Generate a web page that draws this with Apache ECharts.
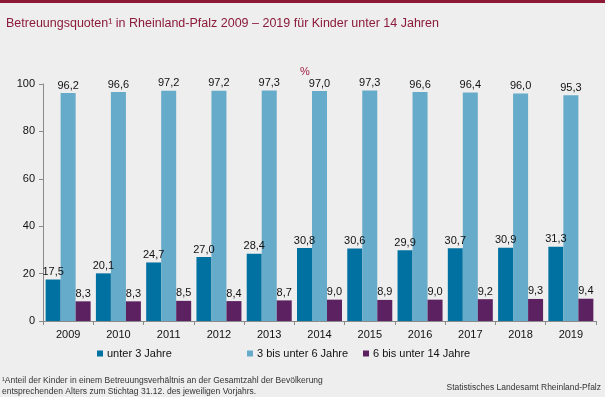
<!DOCTYPE html>
<html>
<head>
<meta charset="utf-8">
<script src="https://cdn.jsdelivr.net/npm/echarts@6/dist/echarts.min.js"></script>
<style>
  html, body { margin: 0; padding: 0; background: #edeeed; }
  #chart { width: 605px; height: 397px; }
</style>
</head>
<body>
<div id="chart"></div>
<script>
// Daten
var jahre = ['2009', '2010', '2011', '2012', '2013', '2014', '2015', '2016', '2017', '2018', '2019'];
var unter3 = [17.5, 20.1, 24.7, 27.0, 28.4, 30.8, 30.6, 29.9, 30.7, 30.9, 31.3];
var von3bis6 = [96.2, 96.6, 97.2, 97.2, 97.3, 97.0, 97.3, 96.6, 96.4, 96.0, 95.3];
var von6bis14 = [8.3, 8.3, 8.5, 8.4, 8.7, 9.0, 8.9, 9.0, 9.2, 9.3, 9.4];
var yTicks = [0, 20, 40, 60, 80, 100];

var font = 'Arial, "Liberation Sans", sans-serif';

function barLabel() {
  return {
    show: true,
    position: 'top',
    distance: 2,
    color: '#111',
    fontFamily: font,
    fontSize: 11,
    formatter: function (p) { return p.value.toFixed(1).replace('.', ','); }
  };
}

function legendAt(left, name) {
  return {
    left: left,
    top: 343,
    itemWidth: 6,
    itemHeight: 6,
    icon: 'rect',
    itemGap: 4,
    textStyle: { fontFamily: font, fontSize: 11, color: '#111', padding: [0, 0, 0, -1] },
    data: [name]
  };
}

var chart = echarts.init(document.getElementById('chart'));

var option = {
  backgroundColor: '#edeeed',
  animation: false,
  title: {
    text: 'Betreuungsquoten¹ in Rheinland-Pfalz 2009 – 2019 für Kinder unter 14 Jahren',
    left: 1,
    top: 12,
    textStyle: { fontFamily: font, fontSize: 12.5, fontWeight: 'normal', color: '#8c1a3c' }
  },
  legend: [
    legendAt(92, 'unter 3 Jahre'),
    legendAt(242, '3 bis unter 6 Jahre'),
    legendAt(358, '6 bis unter 14 Jahre')
  ],
  grid: { left: 43, right: 9, top: 84, bottom: 76 },
  xAxis: {
    type: 'category',
    data: jahre,
    axisLine: { lineStyle: { color: '#8a8a8a', width: 1 } },
    axisTick: { show: true, length: 4, lineStyle: { color: '#8a8a8a' } },
    axisLabel: { color: '#111', fontFamily: font, fontSize: 11, margin: 8 }
  },
  yAxis: {
    type: 'value',
    min: 0,
    max: 100,
    interval: 20,
    axisLine: { show: true, lineStyle: { color: '#8a8a8a', width: 1 } },
    axisTick: { show: true, length: 4, lineStyle: { color: '#8a8a8a' } },
    splitLine: { show: false },
    axisLabel: {
      color: '#111', fontFamily: font, fontSize: 11, margin: 8,
      formatter: function (v) { return yTicks.indexOf(v) >= 0 ? String(v) : ''; }
    }
  },
  series: [
    {
      name: 'unter 3 Jahre',
      type: 'bar',
      barWidth: 15,
      barGap: '0%',
      itemStyle: { color: '#0071a1' },
      label: barLabel(),
      data: unter3
    },
    {
      name: '3 bis unter 6 Jahre',
      type: 'bar',
      barWidth: 15,
      barGap: '0%',
      itemStyle: { color: '#66abc9' },
      label: barLabel(),
      data: von3bis6
    },
    {
      name: '6 bis unter 14 Jahre',
      type: 'bar',
      barWidth: 15,
      barGap: '0%',
      itemStyle: { color: '#5c2160' },
      label: barLabel(),
      data: von6bis14
    }
  ],
  graphic: [
    { type: 'rect', left: 0, top: 0, shape: { width: 605, height: 3 }, style: { fill: '#8c1a36' } },
    { type: 'text', left: 300, top: 66, style: { text: '%', fill: '#9c1e44', font: '11px ' + font } },
    {
      type: 'text', left: 2, top: 375,
      style: {
        text: '¹Anteil der Kinder in einem Betreuungsverhältnis an der Gesamtzahl der Bevölkerung\nentsprechenden Alters zum Stichtag 31.12. des jeweiligen Vorjahrs.',
        fill: '#333', font: '8.5px ' + font, lineHeight: 11
      }
    },
    {
      type: 'text', right: 4, top: 383,
      style: { text: 'Statistisches Landesamt Rheinland-Pfalz', fill: '#333', font: '8.5px ' + font }
    }
  ]
};

chart.setOption(option);

window.addEventListener('resize', function () {
  chart.resize();
});
</script>
</body>
</html>
